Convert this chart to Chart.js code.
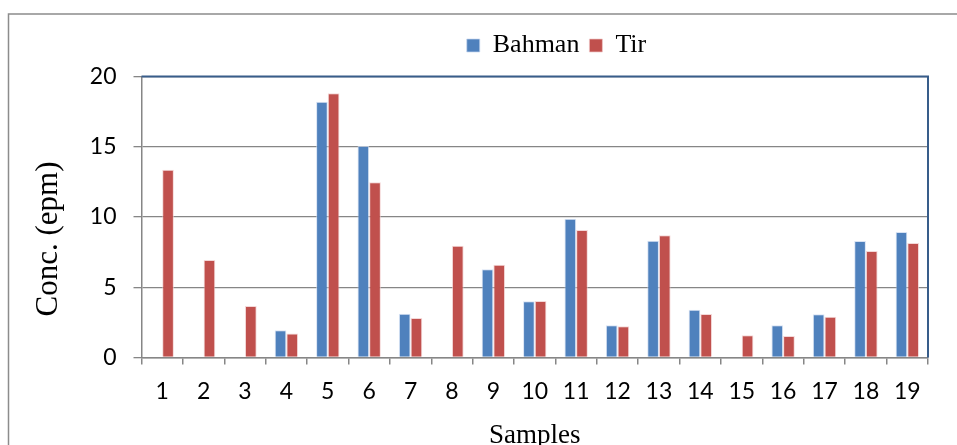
<!DOCTYPE html>
<html><head><meta charset="utf-8">
<script src="https://cdn.jsdelivr.net/npm/chart.js@4"></script>
<style>html,body{margin:0;padding:0;background:#fff;} #wrap{width:957px;height:445px;position:relative;}</style>
</head><body><div id="wrap"><canvas id="c"></canvas></div>
<script>
const categories = ['1','2','3','4','5','6','7','8','9','10','11','12','13','14','15','16','17','18','19'];
const bahman = [null,null,null,1.94,18.2,15.05,3.12,null,6.28,4.0,9.88,2.29,8.31,3.40,null,2.29,3.07,8.29,8.93];
const tir = [13.37,6.94,3.67,1.70,18.8,12.47,2.81,7.96,6.61,4.02,9.07,2.22,8.70,3.10,1.58,1.53,2.90,7.58,8.15];
const seriesNames = ['Bahman','Tir'];
const yMin = 0, yMax = 20, yStep = 5;
const yTitle = 'Conc. (epm)';
const xTitle = 'Samples';

const GRAY = '#868686';
const frame = {
  id: 'frame',
  beforeDraw(chart){
    const ctx = chart.ctx;
    ctx.save();
    ctx.fillStyle = '#fff';
    ctx.fillRect(0,0,chart.width,chart.height);
    ctx.strokeStyle = '#8c8c8c';
    ctx.lineWidth = 1.5;
    ctx.strokeRect(8.5, 14, 1200, 1200);
    ctx.restore();
  },
  afterLayout(chart){
    const lg = chart.legend;
    if (!lg || !lg.lineWidths) return;
    const pad = lg.options.labels.padding;
    const lw = lg.lineWidths[0];
    const target = 556.5 - (lw - pad)/2;
    const cur = (lg.left + pad + lg.right - lw)/2;
    const dx = target - cur;
    lg.left += dx; lg.right += dx;
    const dy = (32.5 - pad) - lg.top;
    lg.top += dy; lg.bottom += dy;
  },
  afterDatasetsDraw(chart){
    const a = chart.chartArea, ctx = chart.ctx;
    ctx.save();
    ctx.strokeStyle = '#385D8A';
    ctx.lineWidth = 2;
    ctx.beginPath();
    ctx.moveTo(a.left, a.top);
    ctx.lineTo(a.right, a.top);
    ctx.lineTo(a.right, a.bottom);
    ctx.stroke();
    ctx.fillStyle = '#000';
    ctx.font = '31px "Liberation Serif", "Times New Roman", serif';
    ctx.textAlign = 'center';
    ctx.textBaseline = 'middle';
    ctx.translate(48.5, 239);
    ctx.rotate(-Math.PI/2);
    ctx.fillText(yTitle, 0, 0);
    ctx.restore();
    ctx.save();
    ctx.fillStyle = '#000';
    ctx.font = '27px "Liberation Serif", "Times New Roman", serif';
    ctx.textAlign = 'center';
    ctx.textBaseline = 'alphabetic';
    ctx.fillText(xTitle, (a.left + a.right)/2, 443);
    ctx.restore();
  }
};

new Chart(document.getElementById('c'), {
  type: 'bar',
  data: {
    labels: categories,
    datasets: [
      {label: seriesNames[0], data: bahman, backgroundColor: '#4F81BD', borderColor: 'rgba(200,215,240,0.7)', borderWidth: 1, borderSkipped: 'bottom', categoryPercentage: 0.565, barPercentage: 1},
      {label: seriesNames[1], data: tir, backgroundColor: '#C0504D', borderColor: 'rgba(240,200,200,0.7)', borderWidth: 1, borderSkipped: 'bottom', categoryPercentage: 0.565, barPercentage: 1}
    ]
  },
  options: {
    responsive: true,
    maintainAspectRatio: false,
    animation: false,
    layout: {padding: {left: 0, right: 29, top: 30.5, bottom: 0}},
    plugins: {
      legend: {
        display: true, position: 'top', align: 'center',
        labels: {boxWidth: 13, boxHeight: 13, padding: 10, color: '#000',
          font: {family: '"Liberation Serif", "Times New Roman", serif', size: 26}}
      },
      tooltip: {enabled: false}
    },
    scales: {
      x: {
        offset: true,
        grid: {offset: true, drawOnChartArea: false, drawTicks: true, tickLength: 7, color: GRAY, lineWidth: 1.5},
        border: {display: true, color: GRAY, width: 1.5},
        ticks: {color: '#000', padding: 13, maxRotation: 0, autoSkip: false,
          font: {family: 'Lato, "Liberation Sans", sans-serif', size: 23}},
        afterFit(s){ s.height = 87.5; }
      },
      y: {
        min: yMin, max: yMax,
        grid: {color: GRAY, lineWidth: 1.3, drawTicks: true, tickLength: 8},
        border: {display: true, color: GRAY, width: 1.5},
        ticks: {stepSize: yStep, color: '#000', padding: 17,
          font: {family: 'Lato, "Liberation Sans", sans-serif', size: 23}},
        afterFit(s){ s.width = 141.5; }
      }
    }
  },
  plugins: [frame]
});
</script></body></html>
